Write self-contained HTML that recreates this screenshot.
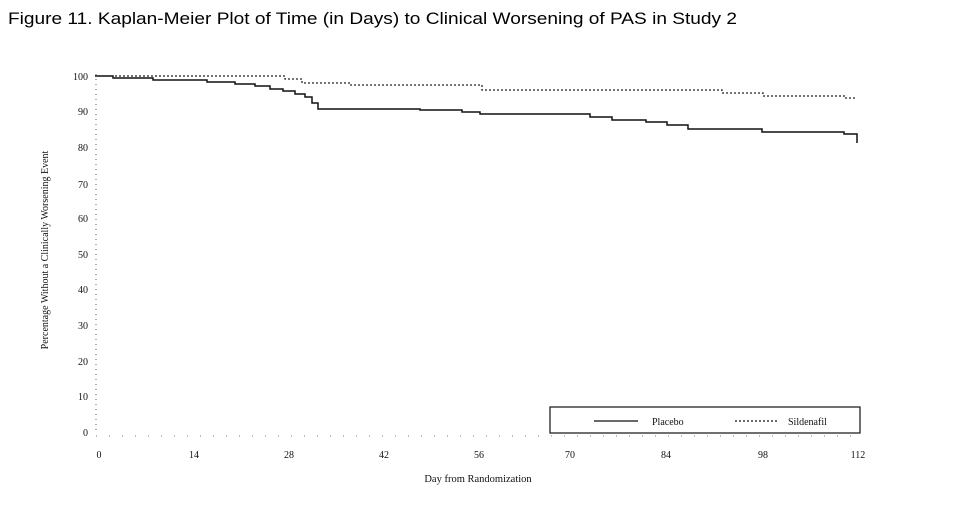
<!DOCTYPE html>
<html><head><meta charset="utf-8"><style>
body{margin:0;background:#fff;width:958px;height:514px;overflow:hidden}
</style></head><body>
<svg width="958" height="514" xmlns="http://www.w3.org/2000/svg">
<text x="8" y="24" font-family="Liberation Sans, sans-serif" font-size="17" fill="#000" textLength="729" lengthAdjust="spacingAndGlyphs">Figure 11.  Kaplan-Meier Plot of Time (in Days) to Clinical Worsening of PAS in Study 2</text>
<g font-family="Liberation Serif, serif" font-size="10" fill="#111" text-anchor="end">
<text x="88" y="80">100</text><text x="88" y="115">90</text><text x="88" y="151">80</text>
<text x="88" y="188">70</text><text x="88" y="222">60</text><text x="88" y="258">50</text>
<text x="88" y="293">40</text><text x="88" y="329">30</text><text x="88" y="365">20</text>
<text x="88" y="400">10</text><text x="88" y="436">0</text>
</g>
<line x1="96" y1="74" x2="96" y2="434" stroke="#555" stroke-width="1" stroke-dasharray="1,4"/>
<line x1="96" y1="436" x2="862" y2="436" stroke="#777" stroke-width="1" stroke-dasharray="1,12"/>
<g font-family="Liberation Serif, serif" font-size="10" fill="#111" text-anchor="middle">
<text x="99" y="458">0</text><text x="194" y="458">14</text><text x="289" y="458">28</text>
<text x="384" y="458">42</text><text x="479" y="458">56</text><text x="570" y="458">70</text>
<text x="666" y="458">84</text><text x="763" y="458">98</text><text x="858" y="458">112</text>
<text x="478" y="482" font-size="10.5">Day from Randomization</text>
</g>
<text transform="translate(48,250) rotate(-90)" font-family="Liberation Serif, serif" font-size="10" fill="#111" text-anchor="middle">Percentage Without a Clinically Worsening Event</text>
<polyline fill="none" stroke="#111" stroke-width="1.5" points="95,76 113,76 113,78 153,78 153,80 207,80 207,82 235,82 235,84 255,84 255,86 270,86 270,89 283,89 283,91 295,91 295,94 305,94 305,97 312,97 312,103 318,103 318,109 420,109 420,110 462,110 462,112 480,112 480,114 590,114 590,117 612,117 612,120 646,120 646,122 667,122 667,125 688,125 688,129 762,129 762,132 844,132 844,134 857,134 857,143"/>
<polyline fill="none" stroke="#222" stroke-width="1.3" stroke-dasharray="2,2" points="95,76 285,76 285,79 302,79 302,83 350,83 350,85 482,85 482,90 722,90 722,93 763,93 763,96 845,96 845,98 857,98"/>
<rect x="550" y="407" width="310" height="26" fill="#fff" stroke="#111" stroke-width="1.2"/>
<line x1="594" y1="421" x2="638" y2="421" stroke="#111" stroke-width="1.3"/>
<text x="652" y="425" font-family="Liberation Serif, serif" font-size="10" fill="#111">Placebo</text>
<line x1="735" y1="421" x2="777" y2="421" stroke="#111" stroke-width="1.2" stroke-dasharray="2,2"/>
<text x="788" y="425" font-family="Liberation Serif, serif" font-size="10" fill="#111">Sildenafil</text>
</svg>
</body></html>
